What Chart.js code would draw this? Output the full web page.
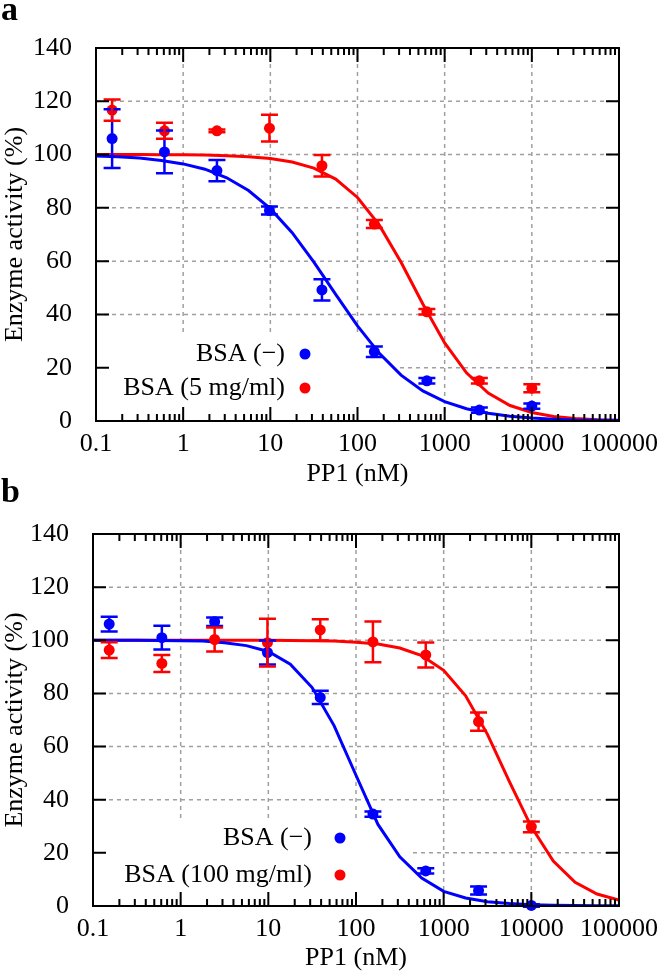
<!DOCTYPE html>
<html>
<head>
<meta charset="utf-8">
<script src="https://cdn.jsdelivr.net/npm/chart.js@4.4.1/dist/chart.umd.min.js"></script>
<style>
  html, body { margin: 0; padding: 0; background: #fff; }
  #wrap { position: relative; width: 666px; height: 979px; overflow: hidden; }
  canvas { position: absolute; left: 0; }
  #chartA { top: 0; }
  #chartB { top: 490px; }
  .panel { position: absolute; left: 1px; font: bold 34px "Liberation Serif", serif; line-height: 1; }
</style>
</head>
<body>
<div id="wrap">
  <canvas id="chartA" width="666" height="490"></canvas>
  <canvas id="chartB" width="666" height="489"></canvas>
  <div class="panel" style="top:-8px">a</div>
  <div class="panel" style="top:474px">b</div>
</div>
<script>
// PP1 concentrations (nM), 4-fold dilution series
const conc = [0.153, 0.61, 2.44, 9.77, 39.1, 156, 625, 2500, 10000];
// x positions of the drawn fit curves (quarter decades)
const fitX = [0.1, 0.178, 0.316, 0.562, 1, 1.78, 3.16, 5.62, 10, 17.8, 31.6, 56.2, 100,
  178, 316, 562, 1000, 1780, 3160, 5620, 10000, 17800, 31600, 56200, 100000];

// panel a
const noneA = [106, 101, 94, 79, 49.2, 26, 15.1, 4.1, 5.6];
const noneAErr = [11, 8, 4, 1.5, 4, 2, 1, 1, 1];
const bsa5A = [116.7, 108.9, 108.9, 109.9, 95.8, 73.9, 41, 15.1, 12.3];
const bsa5AErr = [4, 3, 0.5, 5, 4, 1.5, 1, 1, 1.5];
const noneAFit = [99.5, 99.2, 98.7, 97.8, 96.5, 94.5, 91.3, 86.5, 79.7, 70.7, 59.6, 47.5, 35.7,
  25.4, 17.2, 11.3, 7.3, 4.6, 2.9, 1.8, 1.1, 0.7, 0.4, 0.3, 0.2];
const bsa5AFit = [100, 100, 100, 99.9, 99.9, 99.8, 99.6, 99.2, 98.5, 97.2, 94.9, 90.8, 83.9,
  73.5, 59.6, 43.9, 29.3, 18.1, 10.5, 5.8, 3.2, 1.7, 0.9, 0.5, 0.3];

// panel b
const noneB = [106.1, 101, 107, 95.4, 78.5, 34.6, 13.2, 5.8, 0.2];
const noneBErr = [2.8, 4.5, 1.6, 4.5, 2.5, 1, 1, 1.5, 0.5];
const bsa100B = [96.3, 91.3, 100.3, 99.1, 103.9, 99.4, 94.5, 69.4, 29.8];
const bsa100BErr = [3, 3.2, 4.5, 9, 4, 7.7, 4.7, 3.4, 2];
const noneBFit = [100, 100, 100, 99.9, 99.8, 99.7, 99.1, 98, 95.8, 91, 82.2, 67.9, 49.2,
  30.7, 18.5, 10.5, 5.5, 3, 1.6, 0.9, 0.5, 0.3, 0.2, 0.1, 0.1];
const bsa100BFit = [100, 100, 100, 100, 100, 100, 100, 100, 100, 99.9, 99.8, 99.7, 99.3,
  98.6, 97.1, 94.2, 88.7, 79.1, 64.6, 46.8, 29.8, 16.9, 8.9, 4.5, 2.2];

const xTickValues = [0.1, 1, 10, 100, 1000, 10000, 100000];
const xTickLabels = ['0.1', '1', '10', '100', '1000', '10000', '100000'];
const yTickValues = [0, 20, 40, 60, 80, 100, 120, 140];
const yTickLabels = ['0', '20', '40', '60', '80', '100', '120', '140'];

const BLUE = '#0000ff';
const RED = '#ff0000';
const FONT = '"Liberation Serif", "Times New Roman", serif';

// minor log ticks 2..9 in every decade
const minorX = [];
for (let d = -1; d < 5; d++) {
  for (let k = 2; k <= 9; k++) minorX.push(Number((k * Math.pow(10, d)).toPrecision(3)));
}

const pts = (xs, ys) => xs.map((x, i) => ({ x: x, y: ys[i] }));

// gnuplot look: dashed grid, opaque key, error bars, inward ticks on a full frame
const gnuplotFrame = {
  id: 'gnuplotFrame',
  beforeDatasetsDraw(chart, args, opts) {
    const { ctx, chartArea: a, scales: { x, y } } = chart;
    ctx.save();
    ctx.strokeStyle = '#a0a0a0';
    ctx.lineWidth = 1.5;
    ctx.setLineDash([4, 4]);
    ctx.beginPath();
    xTickValues.slice(1, -1).forEach(v => {
      const px = x.getPixelForValue(v);
      ctx.moveTo(px, a.top); ctx.lineTo(px, a.bottom);
    });
    yTickValues.slice(1, -1).forEach(v => {
      const py = y.getPixelForValue(v);
      ctx.moveTo(a.left, py); ctx.lineTo(a.right, py);
    });
    ctx.stroke();
    ctx.setLineDash([]);

    const b = opts.box;
    ctx.fillStyle = '#fff';
    ctx.fillRect(b[0], b[1], b[2] - b[0], b[3] - b[1]);
    ctx.font = '26px ' + FONT;
    ctx.textAlign = 'right';
    ctx.textBaseline = 'middle';
    opts.labels.forEach((t, i) => {
      ctx.fillStyle = '#000';
      ctx.fillText(t, opts.textRight, opts.rows[i]);
      ctx.fillStyle = opts.colors[i];
      ctx.beginPath();
      ctx.arc(opts.markerX, opts.rows[i], 5.5, 0, Math.PI * 2);
      ctx.fill();
    });
    ctx.restore();
  },
  afterDatasetsDraw(chart) {
    const { ctx, scales: { x, y } } = chart;
    ctx.save();
    ctx.lineWidth = 2.5;
    chart.data.datasets.forEach(ds => {
      if (!ds.errors) return;
      ctx.strokeStyle = ds.backgroundColor;
      ctx.beginPath();
      ds.data.forEach((p, i) => {
        const px = x.getPixelForValue(p.x);
        const top = y.getPixelForValue(p.y + ds.errors[i]);
        const bot = y.getPixelForValue(p.y - ds.errors[i]);
        ctx.moveTo(px, top); ctx.lineTo(px, bot);
        ctx.moveTo(px - 8.5, top); ctx.lineTo(px + 8.5, top);
        ctx.moveTo(px - 8.5, bot); ctx.lineTo(px + 8.5, bot);
      });
      ctx.stroke();
    });
    ctx.restore();
  },
  afterDraw(chart) {
    const { ctx, chartArea: a, scales: { x, y } } = chart;
    ctx.save();
    ctx.strokeStyle = '#000';
    ctx.lineWidth = 2;
    ctx.beginPath();
    yTickValues.forEach(v => {
      const py = y.getPixelForValue(v);
      ctx.moveTo(a.left, py); ctx.lineTo(a.left + 13, py);
      ctx.moveTo(a.right, py); ctx.lineTo(a.right - 13, py);
    });
    xTickValues.forEach(v => {
      const px = x.getPixelForValue(v);
      ctx.moveTo(px, a.bottom); ctx.lineTo(px, a.bottom - 14);
      ctx.moveTo(px, a.top); ctx.lineTo(px, a.top + 14);
    });
    minorX.forEach(v => {
      const px = x.getPixelForValue(v);
      ctx.moveTo(px, a.bottom); ctx.lineTo(px, a.bottom - 7);
      ctx.moveTo(px, a.top); ctx.lineTo(px, a.top + 7);
    });
    ctx.stroke();
    ctx.strokeRect(a.left, a.top, a.right - a.left, a.bottom - a.top);
    ctx.restore();
  }
};

function buildChart(id, series, frame) {
  const datasets = [];
  series.forEach(s => {
    datasets.push({
      data: pts(conc, s.values), errors: s.errors,
      backgroundColor: s.color, borderColor: s.color,
      pointRadius: 5.5, pointBorderWidth: 0, showLine: false, clip: false
    });
  });
  series.forEach(s => {
    datasets.push({
      data: pts(fitX, s.fit), borderColor: s.color, borderWidth: 3,
      pointRadius: 0, showLine: true, tension: 0, fill: false
    });
  });

  return new Chart(document.getElementById(id), {
    type: 'scatter',
    data: { datasets: datasets },
    plugins: [gnuplotFrame],
    options: {
      responsive: false,
      animation: false,
      layout: { padding: { left: 0, top: frame.top, right: frame.right, bottom: 0 } },
      plugins: {
        legend: { display: false },
        tooltip: { enabled: false },
        gnuplotFrame: {
          box: frame.box, rows: frame.rows, textRight: frame.textRight, markerX: frame.markerX,
          labels: series.map(s => s.label), colors: series.map(s => s.color)
        }
      },
      scales: {
        x: {
          type: 'logarithmic', min: 0.1, max: 100000,
          afterBuildTicks: s => { s.ticks = xTickValues.map(v => ({ value: v })); },
          afterFit: s => { s.height = frame.xHeight; },
          grid: { display: false, drawTicks: false },
          border: { display: false },
          ticks: {
            autoSkip: false, maxRotation: 0, padding: 8, color: '#000',
            font: { family: FONT, size: 26 },
            callback: (v, i) => xTickLabels[i]
          },
          title: {
            display: true, text: 'PP1 (nM)', color: '#000',
            font: { family: FONT, size: 26 }, padding: { top: 0, bottom: frame.xTitlePad }
          }
        },
        y: {
          min: 0, max: 140,
          afterBuildTicks: s => { s.ticks = yTickValues.map(v => ({ value: v })); },
          afterFit: s => { s.width = frame.yWidth; },
          grid: { display: false, drawTicks: false },
          border: { display: false },
          ticks: {
            padding: 24, color: '#000',
            font: { family: FONT, size: 26 },
            callback: (v, i) => yTickLabels[i]
          },
          title: {
            display: true, text: 'Enzyme activity (%)', color: '#000',
            font: { family: FONT, size: 26 }, padding: { top: 0, bottom: 0 }
          }
        }
      }
    }
  });
}

function drawAll() {
  buildChart('chartA', [
    { label: 'BSA (\u2212)', color: BLUE, values: noneA, errors: noneAErr, fit: noneAFit },
    { label: 'BSA (5 mg/ml)', color: RED, values: bsa5A, errors: bsa5AErr, fit: bsa5AFit }
  ], { top: 48, right: 40, yWidth: 96, xHeight: 69, xTitlePad: 0,
       box: [97, 336, 396, 419], rows: [354, 388], textRight: 285, markerX: 305 });

  buildChart('chartB', [
    { label: 'BSA (\u2212)', color: BLUE, values: noneB, errors: noneBErr, fit: noneBFit },
    { label: 'BSA (100 mg/ml)', color: RED, values: bsa100B, errors: bsa100BErr, fit: bsa100BFit }
  ], { top: 44, right: 41, yWidth: 93, xHeight: 73, xTitlePad: 5,
       box: [94, 332, 412, 415], rows: [348, 385], textRight: 312, markerX: 340 });
}

if (document.fonts && document.fonts.load) {
  document.fonts.load('26px "Liberation Serif"').then(drawAll, drawAll);
} else {
  drawAll();
}
</script>
</body>
</html>
